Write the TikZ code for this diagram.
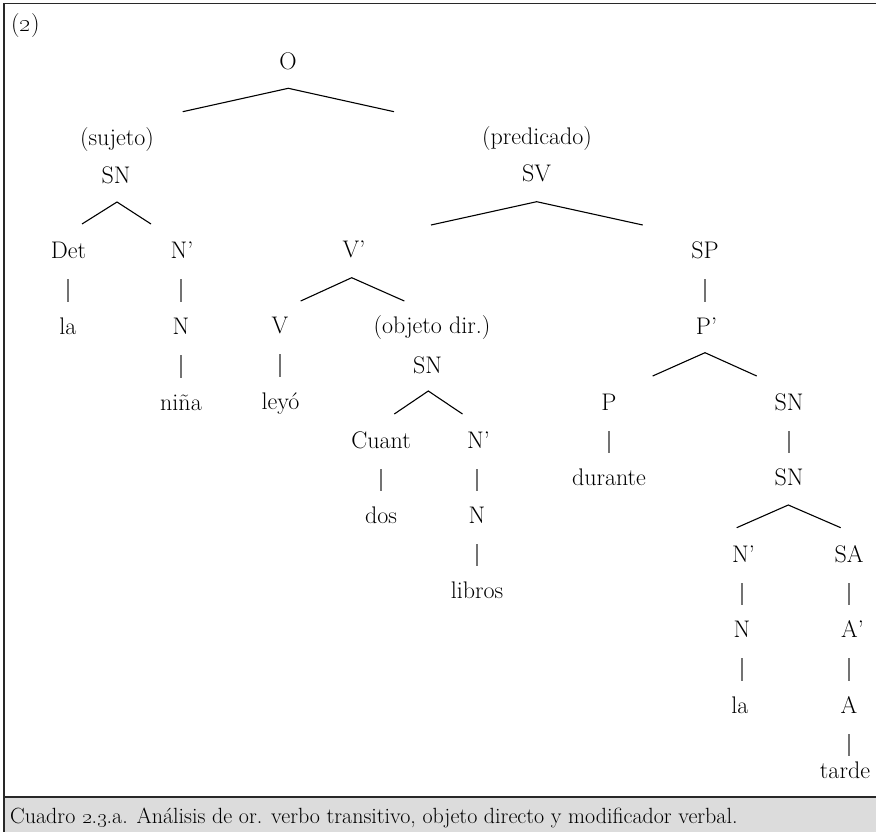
\documentclass[tikz,border=0pt]{standalone}
\usepackage{tikz}
\definecolor{capfill}{RGB}{220,220,220}
\definecolor{framecol}{RGB}{40,40,40}
\tikzset{
  lbl/.style={anchor=base, inner sep=0pt, font=\fontsize{24}{28}\selectfont},
  captxt/.style={anchor=base west, inner sep=0pt, font=\fontsize{22}{26}\selectfont},
  branch/.style={line width=1.1pt, black, line join=miter},
  vbar/.style={line width=1.2pt, black!55, shorten <=21pt, shorten >=32pt},
  vbarshort/.style={vbar, shorten >=22pt},
  frame/.style={line width=1.4pt, framecol},
}
\begin{document}
\begin{tikzpicture}[x=1pt,y=-1pt]
\useasboundingbox (0,0) rectangle (876,832);
% frame and caption bar
\fill[capfill] (4,797) rectangle (876,832);
\draw[frame] (876,3.5) -- (4,3.5) -- (4,832);
\draw[frame] (4,797) -- (876,797);
\node[lbl, anchor=base west] (ex) at (11,32) {(\oldstylenums{2})};
\node[captxt] (cap) at (10,823) {Cuadro \oldstylenums{2}.\oldstylenums{3}.a. Análisis de or. verbo transitivo, objeto directo y modificador verbal.};
% nodes
\node[lbl] (O) at (288,70) {O};
\node[lbl] (suj) at (117,146) {(sujeto)};
\node[lbl] (SNs) at (116,183) {SN};
\node[lbl] (pred) at (537,145) {(predicado)};
\node[lbl] (SV) at (536.5,182) {SV};
\node[lbl] (Det) at (68.5,258) {Det};
\node[lbl] (Np1) at (182,258) {N’};
\node[lbl] (la1) at (68,334) {la};
\node[lbl] (N1) at (181,334) {N};
\node[lbl] (nina) at (181,410) {niña};
\node[lbl] (Vp) at (354,257) {V’};
\node[lbl] (V) at (280,333) {V};
\node[lbl] (leyo) at (280.5,409) {leyó};
\node[lbl] (obj) at (432,333) {(objeto dir.)};
\node[lbl] (SNo) at (427.5,373) {SN};
\node[lbl] (Cuant) at (381,448) {Cuant};
\node[lbl] (Np2) at (478.5,448) {N’};
\node[lbl] (dos) at (381,523) {dos};
\node[lbl] (N2) at (477,523) {N};
\node[lbl] (libros) at (477,598) {libros};
\node[lbl] (SP) at (705,258) {SP};
\node[lbl] (Pp) at (706.5,334) {P’};
\node[lbl] (P) at (609,410) {P};
\node[lbl] (SN3) at (789,410) {SN};
\node[lbl] (durante) at (609,485) {durante};
\node[lbl] (SN4) at (789,485) {SN};
\node[lbl] (Np3) at (743.5,562) {N’};
\node[lbl] (SA) at (849,562) {SA};
\node[lbl] (N3) at (742,637) {N};
\node[lbl] (Ap) at (852.5,637) {A’};
\node[lbl] (la2) at (740,713) {la};
\node[lbl] (A) at (849,713) {A};
\node[lbl] (tarde) at (845,778) {tarde};
% branch points
\coordinate (Oa) at (288.3,88.3); \coordinate (Ol) at (182.7,111.7); \coordinate (Or) at (394,111.7);
\coordinate (SNsa) at (117,202); \coordinate (SNsl) at (82,224); \coordinate (SNsr) at (151,224);
\coordinate (SVa) at (536.7,201.7); \coordinate (SVl) at (431,225); \coordinate (SVr) at (642.7,225);
\coordinate (Vpa) at (351.7,277.7); \coordinate (Vpl) at (300.7,301); \coordinate (Vpr) at (404.3,301);
\coordinate (SNoa) at (428.3,391); \coordinate (SNol) at (394.3,414); \coordinate (SNor) at (462.5,414);
\coordinate (Ppa) at (705,352.7); \coordinate (Ppl) at (652.7,376); \coordinate (Ppr) at (756.7,376);
\coordinate (SN4a) at (788.3,505); \coordinate (SN4l) at (736.7,527.7); \coordinate (SN4r) at (840.7,527.7);
\draw[branch] (Ol) -- (Oa) -- (Or);
\draw[branch] (SNsl) -- (SNsa) -- (SNsr);
\draw[branch] (SVl) -- (SVa) -- (SVr);
\draw[branch] (Vpl) -- (Vpa) -- (Vpr);
\draw[branch] (SNol) -- (SNoa) -- (SNor);
\draw[branch] (Ppl) -- (Ppa) -- (Ppr);
\draw[branch] (SN4l) -- (SN4a) -- (SN4r);
% unary bars
\draw[vbar] (la1.base |- Det.base) -- (la1.base);
\draw[vbar] (N1.base |- Np1.base) -- (N1.base);
\draw[vbar] (N1.base) -- (N1.base |- nina.base);
\draw[vbar] (V.base) -- (V.base |- leyo.base);
\draw[vbar] (dos.base |- Cuant.base) -- (dos.base);
\draw[vbar] (N2.base |- Np2.base) -- (N2.base);
\draw[vbar] (N2.base) -- (N2.base |- libros.base);
\draw[vbar] (SP.base) -- (SP.base |- Pp.base);
\draw[vbar] (P.base) -- (P.base |- durante.base);
\draw[vbar] (SN3.base) -- (SN3.base |- SN4.base);
\draw[vbar] (N3.base |- Np3.base) -- (N3.base);
\draw[vbar] (N3.base) -- (N3.base |- la2.base);
\draw[vbar] (SA.base) -- (SA.base |- Ap.base);
\draw[vbar] (A.base |- Ap.base) -- (A.base);
\draw[vbarshort] (A.base) -- (A.base |- tarde.base);
\end{tikzpicture}
\end{document}
